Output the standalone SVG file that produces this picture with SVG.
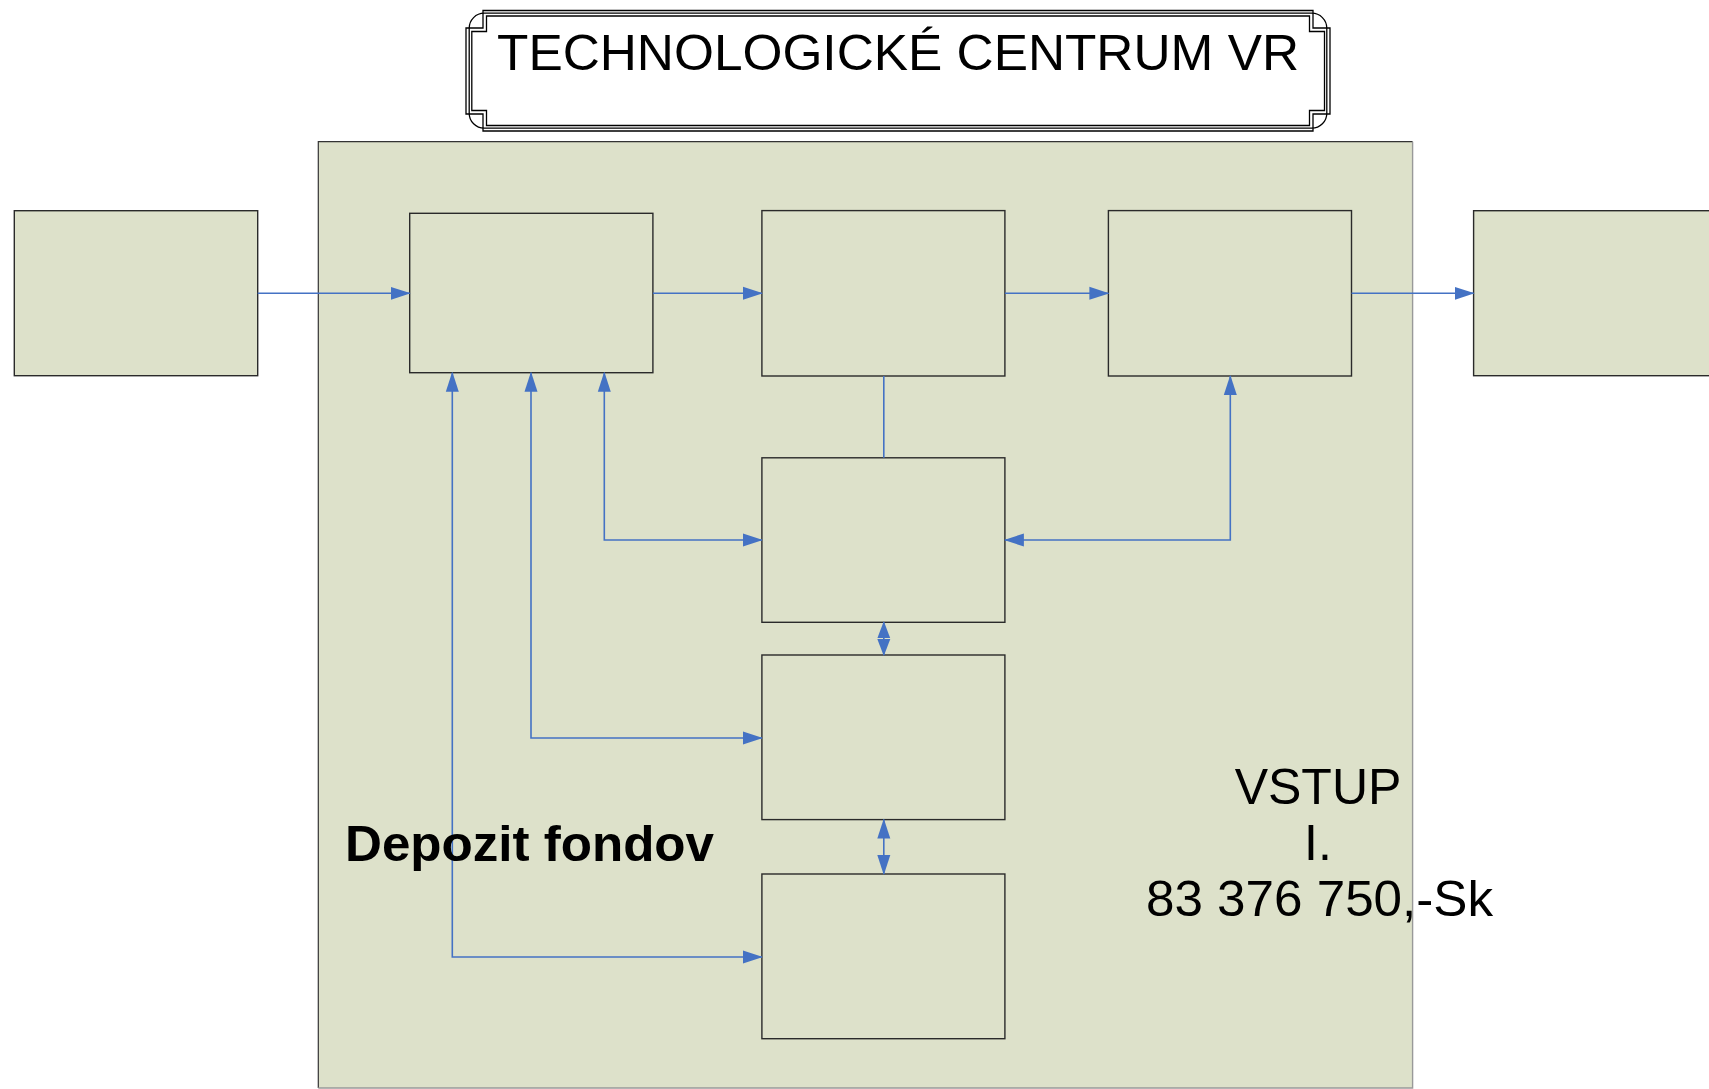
<svg xmlns="http://www.w3.org/2000/svg" width="1709" height="1089" viewBox="0 0 1709 1089">
<style>
.box{fill:#DDE1CA;stroke:#2a2a2a;stroke-width:1.4}
.con{fill:none;stroke:#4472C4;stroke-width:1.6}
.txt{font-family:"Liberation Sans",Arial,sans-serif;fill:#000}
.fl{fill:none;stroke:#000;stroke-width:1.3}
</style>
<defs>
<marker id="arr" markerUnits="userSpaceOnUse" markerWidth="20" markerHeight="14" refX="19" refY="6.5" orient="auto-start-reverse" viewBox="0 0 20 13">
<path d="M0,0 L20,6.5 L0,13 Z" fill="#4472C4"/>
</marker>
<marker id="arrs" markerUnits="userSpaceOnUse" markerWidth="17" markerHeight="14" refX="16" refY="6.5" orient="auto-start-reverse" viewBox="0 0 17 13">
<path d="M0,0 L17,6.5 L0,13 Z" fill="#4472C4"/>
</marker>
</defs>

<g id="title">
<path d="M483,10.5 H1313 V28 H1330 V114 H1313 V131 H483 V114 H466 V28 H483 Z" fill="#fff" stroke="#000" stroke-width="1.3"/>
<rect class="fl" x="469.2" y="13.2" width="857.6" height="115" rx="15" ry="15"/>
<path class="fl" d="M486.5,16 H1309.5 V31.5 H1324.5 V110.5 H1309.5 V125.5 H486.5 V110.5 H471.8 V31.5 H486.5 Z"/>
<text class="txt" x="497" y="70" font-size="50" textLength="802" lengthAdjust="spacingAndGlyphs">TECHNOLOGICKÉ CENTRUM VR</text>
</g>

<g id="container">
<rect x="318.3" y="141.7" width="1094.3" height="946.3" fill="#DDE1CA"/>
<path d="M318.3,1088 V141.7 H1412.6" fill="none" stroke="#333" stroke-width="1.2"/>
<path d="M1412.6,141.7 V1088 H318.3" fill="none" stroke="#999" stroke-width="1.4"/>
</g>

<g id="n-left"><rect class="box" x="14.3" y="210.7" width="243.4" height="165"/></g>
<g id="n-a"><rect class="box" x="409.7" y="213.3" width="243.2" height="159.4"/></g>
<g id="n-b"><rect class="box" x="761.9" y="210.6" width="243" height="165.4"/></g>
<g id="n-c"><rect class="box" x="1108.4" y="210.6" width="243.1" height="165.4"/></g>
<g id="n-right"><rect class="box" x="1473.6" y="210.7" width="260" height="165"/></g>
<g id="n-d"><rect class="box" x="761.9" y="457.8" width="243" height="164.5"/></g>
<g id="n-e"><rect class="box" x="761.9" y="655" width="243" height="164.6"/></g>
<g id="n-f"><rect class="box" x="761.9" y="874" width="243" height="164.7"/></g>

<g id="connectors">
<path class="con" d="M257.7,293.3 H409.7" marker-end="url(#arr)"/>
<path class="con" d="M652.9,293.3 H761.9" marker-end="url(#arr)"/>
<path class="con" d="M1004.9,293.3 H1108.4" marker-end="url(#arr)"/>
<path class="con" d="M1351.5,293.3 H1473.6" marker-end="url(#arr)"/>
<path class="con" d="M883.8,376 V457.8"/>
<path class="con" d="M604.3,372.7 V540 H761.9" marker-start="url(#arr)" marker-end="url(#arr)"/>
<path class="con" d="M1230.3,376 V540 H1004.9" marker-start="url(#arr)" marker-end="url(#arr)"/>
<path class="con" d="M883.8,622.3 V655" marker-start="url(#arrs)" marker-end="url(#arrs)"/>
<path class="con" d="M531,372.7 V738 H761.9" marker-start="url(#arr)" marker-end="url(#arr)"/>
<path class="con" d="M883.8,819.6 V874" marker-start="url(#arr)" marker-end="url(#arr)"/>
<path class="con" d="M452.3,372.7 V957 H761.9" marker-start="url(#arr)" marker-end="url(#arr)"/>
</g>

<g id="labels">
<text class="txt" x="345" y="861" font-size="50" font-weight="bold" textLength="369" lengthAdjust="spacingAndGlyphs">Depozit fondov</text>
<text class="txt" x="1318" y="804" font-size="50" text-anchor="middle">VSTUP</text>
<text class="txt" x="1318" y="860" font-size="50" text-anchor="middle">I.</text>
<text class="txt" x="1319.5" y="916" font-size="50" text-anchor="middle" textLength="347" lengthAdjust="spacingAndGlyphs">83 376 750,-Sk</text>
</g>
</svg>
